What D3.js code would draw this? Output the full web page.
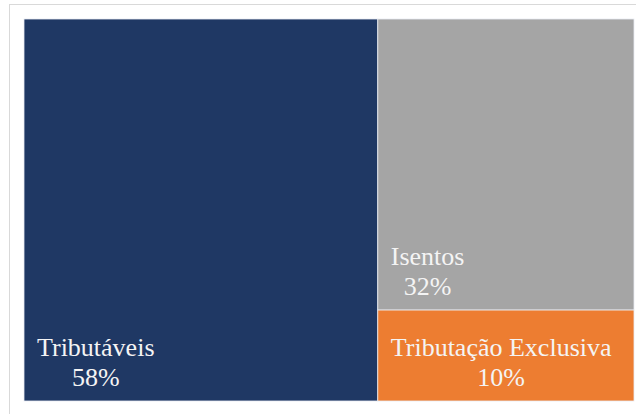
<!DOCTYPE html>
<html>
<head>
<meta charset="utf-8">
<script src="https://cdn.jsdelivr.net/npm/d3@7"></script>
<style>
  html, body { margin: 0; padding: 0; background: #fff; }
  svg { display: block; }
</style>
</head>
<body>
<svg id="chart" width="636" height="414"></svg>
<script>
// Composition of income: share of each category (%)
const categories = ["Tributáveis", "Isentos", "Tributação Exclusiva"];
const values = [58, 32, 10];
const labels = ["58%", "32%", "10%"];
const colors = ["#1F3864", "#A5A5A5", "#ED7D31"];

const W = 636, H = 414;
const area = { x: 24, y: 19, w: 610, h: 382 };

const svg = d3.select("#chart");

// outer chart frame
svg.append("rect")
  .attr("x", 9.5).attr("y", 4.5)
  .attr("width", 700).attr("height", 500)
  .attr("fill", "#fff")
  .attr("stroke", "#d9d9d9")
  .attr("stroke-width", 1);

const root = d3.hierarchy({
  children: categories.map((c, i) => ({ name: c, value: values[i], label: labels[i], color: colors[i] }))
}).sum(d => d.value || 0);

d3.treemap()
  .tile(d3.treemapBinary)
  .size([area.w, area.h])
  .paddingInner(0)(root);

const g = svg.append("g").attr("transform", `translate(${area.x},${area.y})`);

const cell = g.selectAll("g.cell")
  .data(root.leaves())
  .join("g")
  .attr("class", "cell");

cell.append("rect")
  .attr("x", d => d.x0)
  .attr("y", d => d.y0)
  .attr("width", d => d.x1 - d.x0)
  .attr("height", d => d.y1 - d.y0)
  .attr("fill", d => d.data.color)
  .attr("stroke", "#e8ecf2")
  .attr("stroke-width", 0.8);

const fontSize = 26, lineGap = 30.5, padLeft = 13, padBottom = 15;

cell.each(function(d) {
  const t = d3.select(this).append("text")
    .attr("font-family", "'Liberation Serif', 'Times New Roman', serif")
    .attr("font-size", fontSize)
    .attr("fill", "#f4f4f4")
    .attr("text-anchor", "middle");
  const l1 = t.append("tspan").text(d.data.name);
  const l2 = t.append("tspan").text(d.data.label);
  const wBlock = l1.node().getComputedTextLength();
  const cx = d.x0 + padLeft + wBlock / 2;
  const yLast = d.y1 - padBottom;
  l1.attr("x", cx).attr("y", yLast - lineGap);
  l2.attr("x", cx).attr("y", yLast);
});
</script>
</body>
</html>
